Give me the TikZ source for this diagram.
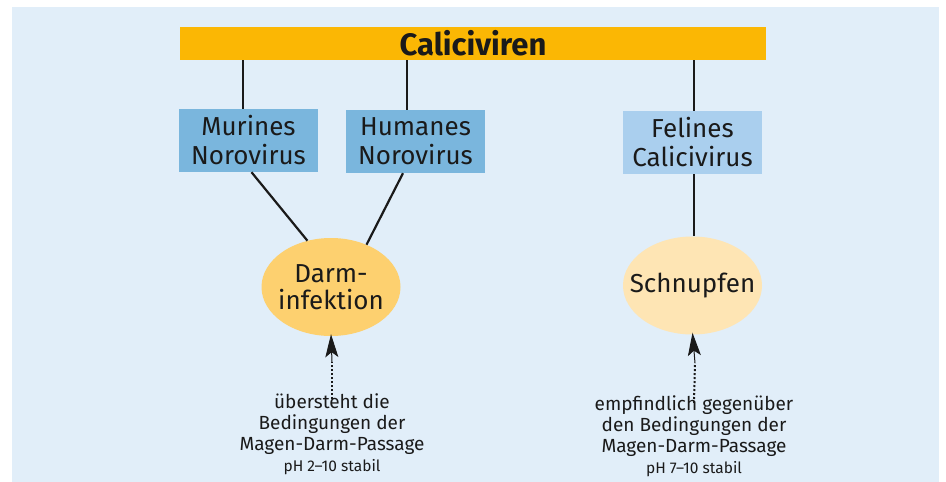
\documentclass[tikz,border=0pt]{standalone}
\usepackage{fontspec}
\setmainfont{Fira Sans}
\usetikzlibrary{arrows.meta,shapes.geometric}
\definecolor{bgblue}{HTML}{E1EEF9}
\definecolor{barorange}{HTML}{FBB704}
\definecolor{boxblue}{HTML}{7AB6DD}
\definecolor{boxlight}{HTML}{AACFEE}
\definecolor{ellorange}{HTML}{FDD06F}
\definecolor{elllight}{HTML}{FEE5B4}
\definecolor{ink}{HTML}{1A1A1A}
\tikzset{
  virbox/.style={minimum width=139pt, minimum height=63pt, inner sep=0pt, align=center,
    text=ink, font=\fontsize{26}{29}\selectfont},
  oval/.style={ellipse, minimum width=139pt, minimum height=98pt, inner xsep=-22pt, inner ysep=0pt, align=center,
    text=ink, font=\fontsize{26}{27}\selectfont},
  link/.style={draw=ink, line width=2.2pt},
  note/.style={align=center, inner sep=0pt, text=ink, font=\fontsize{19}{21}\selectfont},
  dotline/.style={draw=ink, line width=2pt, dash pattern=on 2pt off 2pt},
  headarrow/.style={draw=ink, fill=ink, line width=1pt, -{Stealth[length=23pt,width=13pt,inset=5pt]}}
}
\begin{document}
\begin{tikzpicture}[x=1pt,y=-1pt]
\useasboundingbox (0,0) rectangle (946,482);
\fill[bgblue] (12,7) rectangle (939,482);

\node[fill=barorange, minimum width=586pt, minimum height=33pt, inner sep=0pt, text=ink,
  font=\fontsize{31}{33}\selectfont\bfseries] (cal) at (473,43.5) {Caliciviren};

\node[virbox, fill=boxblue] (mur) at (248.5,140.5) {Murines\\Norovirus};
\node[virbox, fill=boxblue] (hum) at (415.5,141.5) {Humanes\\Norovirus};
\node[virbox, fill=boxlight] (fel) at (692.5,142.5) {Felines\\Calicivirus};

\node[oval, fill=ellorange] (darm) at (331,287) {Darm-\\infektion};
\node[oval, fill=elllight] (schn) at (692.5,285.5) {Schnupfen};

\draw[link] ([xshift=-5.5pt]mur.north) -- ([xshift=-5.5pt]mur.north |- cal.south);
\draw[link] ([xshift=-8.5pt]hum.north) -- ([xshift=-8.5pt]hum.north |- cal.south);
\draw[link] ([xshift=1.5pt]fel.north) -- ([xshift=1.5pt]fel.north |- cal.south);

\draw[link] ([xshift=3pt]mur.south) -- (darm.117);
\draw[link] ([xshift=-12.5pt]hum.south) -- (darm.50);
\draw[link] ([xshift=1.5pt]fel.south) -- ([xshift=1.5pt]schn.north);

\node[note, anchor=north] (dnote) at (332,393)
  {übersteht die\\Bedingungen der\\Magen-Darm-Passage\\{\fontsize{15.5}{20}\selectfont pH 2–10 stabil}};
\node[note, anchor=north] (snote) at (694,395)
  {empfindlich gegenüber\\den Bedingungen der\\Magen-Darm-Passage\\{\fontsize{15.5}{20}\selectfont pH 7–10 stabil}};

\coordinate (dbase) at (332,362);
\coordinate (sbase) at (695,363);
\draw[dotline] ([yshift=-6pt]dnote.north) -- (dbase);
\draw[headarrow] (dbase) -- ([yshift=2pt]darm.south);
\draw[dotline] ([yshift=-8pt]snote.north) -- (sbase);
\draw[headarrow] (sbase) -- ([yshift=2pt]schn.south);
\end{tikzpicture}
\end{document}
